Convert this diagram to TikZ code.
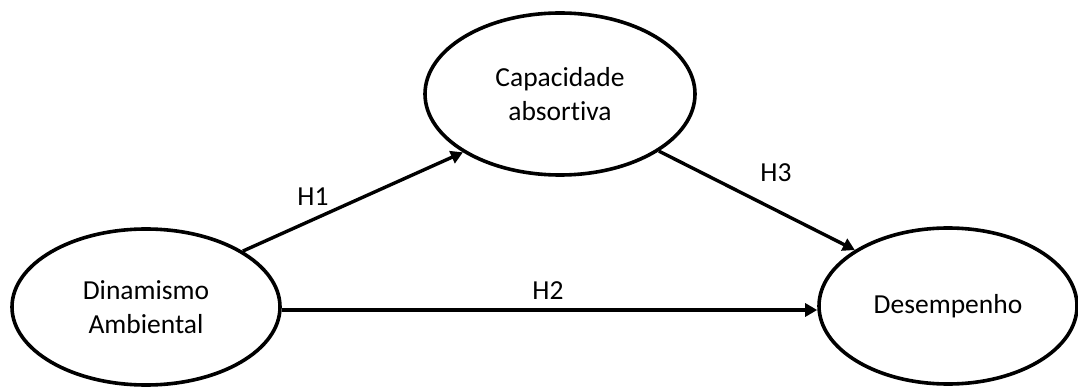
\documentclass[tikz,border=0pt]{standalone}
\usepackage{fontspec}
\setmainfont[Ligatures=CommonOff]{Carlito}
\usetikzlibrary{shapes.geometric,arrows.meta}
\begin{document}
\begin{tikzpicture}[x=1pt,y=-1pt,
  construct/.style={ellipse,draw,line width=3.6pt,inner sep=0pt,align=center,
    font=\fontsize{27.5}{33.5}\selectfont},
  link/.style={line width=3.4pt,-{Triangle[length=12pt,width=13pt]}},
  hlabel/.style={font=\fontsize{27.5}{33.5}\selectfont,inner sep=0pt}]
\useasboundingbox (0,0) rectangle (1078,387);
\node[construct,minimum width=268pt,minimum height=156pt] (da) at (146,307) {Dinamismo\\Ambiental};
\node[construct,minimum width=270pt,minimum height=162pt] (ca) at (560,94) {Capacidade\\absortiva};
\node[construct,minimum width=258pt,minimum height=156pt] (de) at (948,306) {Desempenho};
\draw[link] (da.30) -- (ca.211.8);
\draw[link] (ca.-30) -- (de.149);
\draw[link] (da.east |- 0,310) -- (de.west |- 0,310);
\node[hlabel] (h1) at (313,197) {H1};
\node[hlabel] (h2) at (548,291) {H2};
\node[hlabel] (h3) at (776,173) {H3};
\end{tikzpicture}
\end{document}
